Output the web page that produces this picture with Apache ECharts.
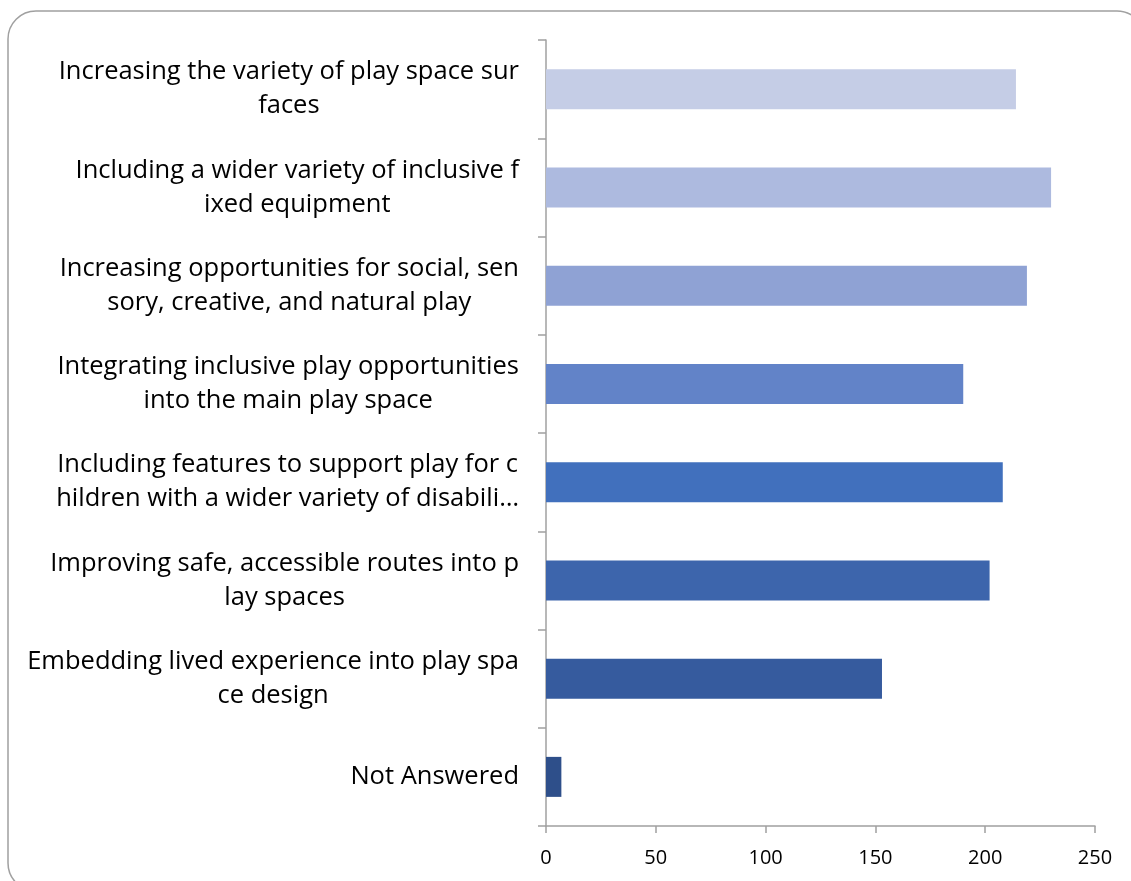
<!DOCTYPE html>
<html>
<head>
<meta charset="utf-8">
<script src="https://cdn.jsdelivr.net/npm/echarts@6/dist/echarts.min.js"></script>
<style>
  html, body { margin: 0; padding: 0; background: #ffffff; }
  #chart { width: 1131px; height: 881px; }
</style>
</head>
<body>
<div id="chart"></div>
<script>
const categories = [
  'Increasing the variety of play space surfaces',
  'Including a wider variety of inclusive fixed equipment',
  'Increasing opportunities for social, sensory, creative, and natural play',
  'Integrating inclusive play opportunities into the main play space',
  'Including features to support play for children with a wider variety of disabilities',
  'Improving safe, accessible routes into play spaces',
  'Embedding lived experience into play space design',
  'Not Answered'
];
const values = [214, 230, 219, 190, 208, 202, 153, 7];
const barColors = ['#c5cde6', '#adbadf', '#8fa2d4', '#6283c8', '#4170bd', '#3d65ac', '#365b9e', '#2e4f8a'];
const xTicks = { min: 0, max: 250, interval: 50 };

function wrapLabel(s) {
  const n = 40;
  const lines = [];
  for (let i = 0; i < s.length; i += n) lines.push(s.slice(i, i + n).trim());
  let out = lines.slice(0, 2);
  if (lines.length > 2) out[1] = out[1].slice(0, n) + '…';
  return out.map(l => '{c|' + l + '}').join('\n');
}

const chart = echarts.init(document.getElementById('chart'));
chart.setOption({
  animation: false,
  backgroundColor: '#ffffff',
  graphic: [{
    type: 'rect',
    shape: { x: 8, y: 11, width: 1137, height: 880, r: 28 },
    style: { fill: 'none', stroke: '#a0a0a0', lineWidth: 1.5 },
    silent: true, z: -1
  }],
  grid: { left: 546, right: 36, top: 40, bottom: 55, containLabel: false },
  xAxis: {
    type: 'value',
    min: xTicks.min, max: xTicks.max, interval: xTicks.interval,
    splitLine: { show: false },
    axisLine: { show: true, lineStyle: { color: '#a0a0a0', width: 1.5 } },
    axisTick: { show: true, length: 7, lineStyle: { color: '#a0a0a0', width: 1.5 } },
    axisLabel: { color: '#000000', fontFamily: 'Open Sans', fontSize: 20, margin: 22 }
  },
  yAxis: {
    type: 'category',
    inverse: true,
    data: categories,
    axisLine: { show: true, lineStyle: { color: '#a0a0a0', width: 1.5 } },
    axisTick: { show: true, length: 8, lineStyle: { color: '#a0a0a0', width: 1.5 } },
    axisLabel: {
      margin: 27,
      formatter: wrapLabel,
      rich: { c: { align: 'center', fontFamily: 'Open Sans', fontSize: 25.5, color: '#000000', lineHeight: 34 } }
    }
  },
  series: [{
    type: 'bar',
    data: values.map((v, i) => ({ value: v, itemStyle: { color: barColors[i] } })),
    barWidth: 40
  }]
});
</script>
</body>
</html>
